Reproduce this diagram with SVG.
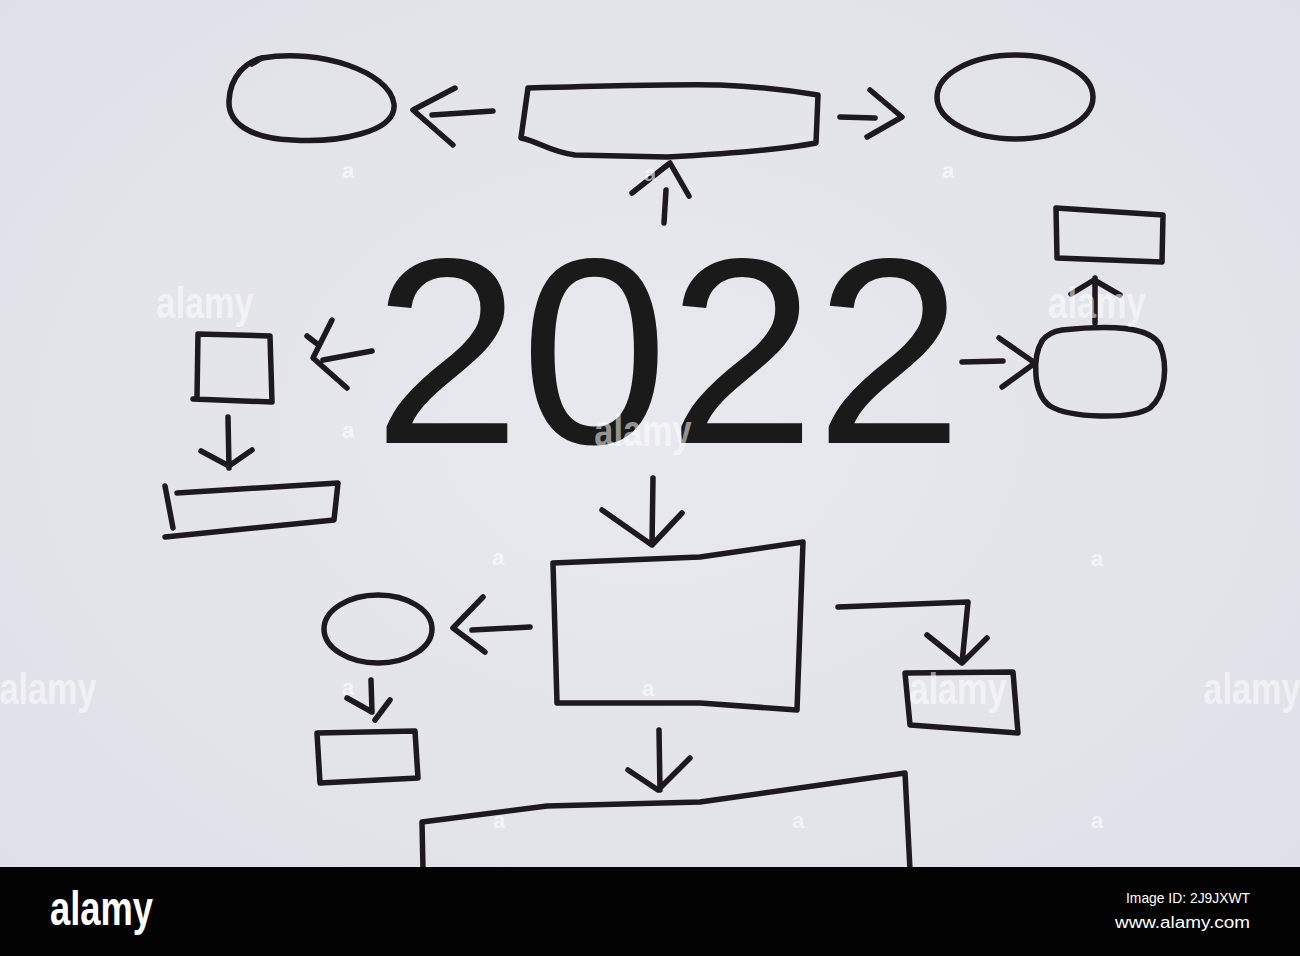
<svg xmlns="http://www.w3.org/2000/svg" width="1300" height="956" viewBox="0 0 1300 956">
<defs>
<radialGradient id="paper" cx="0.5" cy="0.45" r="0.75">
<stop offset="0" stop-color="#e8e9ee"/>
<stop offset="1" stop-color="#dfe0e7"/>
</radialGradient>
<style>
.ink{fill:none;stroke:#1d191e;stroke-width:5.5;stroke-linecap:round;stroke-linejoin:round}
.big{font-family:"Liberation Sans",Arial,sans-serif;font-size:265px;fill:#1a1a1a}
.wm{font-family:"Liberation Sans",Arial,sans-serif;font-weight:bold;fill:#ffffff;fill-opacity:0.55}
.wms{font-family:"Liberation Sans",Arial,sans-serif;font-weight:bold;font-size:22px;fill:#ffffff;fill-opacity:0.6}
.bar{font-family:"Liberation Sans",Arial,sans-serif;fill:#ffffff}
</style>
</defs>
<rect x="0" y="0" width="1300" height="956" fill="url(#paper)"/>

<g id="title">
<text class="big" x="668" y="443" text-anchor="middle">2022</text>
</g>

<g id="node-top-left-ellipse">
<path class="ink" d="M262,58 C320,48 390,72 394,104 C397,133 335,143 292,140 C248,138 228,122 229,101 C230,76 246,62 262,58 Z"/>
<path class="ink" d="M252,64 L262,58" stroke-width="7"/>
</g>
<g id="node-top-rect">
<path class="ink" d="M528,88 C600,86 680,84 720,85 C770,87 800,92 818,95 L816,143 C790,148 740,153 667,157 L575,155 C550,152 540,142 521,138 L528,88"/>
</g>
<g id="node-top-right-ellipse">
<ellipse class="ink" cx="1015" cy="97" rx="78" ry="42"/>
</g>
<g id="node-right-rect">
<path class="ink" d="M1056,208 L1163,215 L1162,262 L1057,258 Z"/>
</g>
<g id="node-right-round">
<path class="ink" d="M1062,330 C1110,325 1150,326 1160,345 C1168,365 1166,395 1150,408 C1130,420 1070,418 1050,406 C1032,393 1033,356 1042,341 C1048,333 1055,331 1062,330 Z"/>
</g>
<g id="node-left-square">
<path class="ink" d="M198,334 L270,336 L272,402 L193,399 M198,334 L197,397"/>
</g>
<g id="node-left-rect">
<path class="ink" d="M177,493 L338,483 L334,520 L165,537 M165,486 L173,528"/>
</g>
<g id="node-center-rect">
<path class="ink" d="M553,563 L700,557 L803,542 L797,710 L700,703 L557,703 Z"/>
</g>
<g id="node-left-circle">
<ellipse class="ink" cx="378" cy="629" rx="54" ry="34"/>
</g>
<g id="node-small-rect">
<path class="ink" d="M317,733 L415,731 L418,778 L320,783 Z"/>
</g>
<g id="node-right-small-rect">
<path class="ink" d="M905,673 L1013,672 L1018,733 L910,725 Z"/>
</g>
<g id="node-bottom-rect">
<path class="ink" d="M423,870 L422,822 L547,806 L700,802 L905,773 L910,870"/>
</g>

<g id="connectors">
<path class="ink" d="M493,111 L432,115 M455,88 L413,110 L453,145"/>
<path class="ink" d="M664,223 L666,190 M632,193 L670,163 L689,196"/>
<path class="ink" d="M840,117 L875,118 M870,90 L902,117 L867,137"/>
<path class="ink" d="M1095,323 L1095,278 M1071,294 L1094,280 L1120,295"/>
<path class="ink" d="M962,362 L1003,361 M999,338 L1035,363 L1002,387"/>
<path class="ink" d="M372,351 L323,360 M332,320 L313,358 L347,388 M307,336 L316,343"/>
<path class="ink" d="M228,417 L229,468 M201,451 L229,466 L252,450"/>
<path class="ink" d="M653,478 L652,545 M602,510 L652,545 L682,513"/>
<path class="ink" d="M530,627 L472,630 M483,597 L453,628 L485,652"/>
<path class="ink" d="M371,680 L372,712 M347,698 L372,712 M390,700 L375,720"/>
<path class="ink" d="M838,607 L968,602 L962,663 M927,635 L962,663 L987,638"/>
<path class="ink" d="M659,730 L660,790 M628,770 L658,790 L690,758"/>
</g>

<g id="watermarks">
<text class="wm" font-size="44" x="205" y="318" text-anchor="middle" transform="translate(205 0) scale(0.78 1) translate(-205 0)">alamy</text>
<text class="wm" font-size="44" x="1097" y="318" text-anchor="middle" transform="translate(1097 0) scale(0.78 1) translate(-1097 0)">alamy</text>
<text class="wm" font-size="44" x="643" y="446" text-anchor="middle" transform="translate(643 0) scale(0.78 1) translate(-643 0)">alamy</text>
<text class="wm" font-size="44" x="48" y="704" text-anchor="middle" transform="translate(48 0) scale(0.78 1) translate(-48 0)">alamy</text>
<text class="wm" font-size="44" x="958" y="704" text-anchor="middle" transform="translate(958 0) scale(0.78 1) translate(-958 0)">alamy</text>
<text class="wm" font-size="44" x="1252" y="704" text-anchor="middle" transform="translate(1252 0) scale(0.78 1) translate(-1252 0)">alamy</text>
<text class="wms" x="348" y="178" text-anchor="middle">a</text>
<text class="wms" x="650" y="181" text-anchor="middle">a</text>
<text class="wms" x="948" y="178" text-anchor="middle">a</text>
<text class="wms" x="348" y="438" text-anchor="middle">a</text>
<text class="wms" x="498" y="565" text-anchor="middle">a</text>
<text class="wms" x="1097" y="566" text-anchor="middle">a</text>
<text class="wms" x="348" y="695" text-anchor="middle">a</text>
<text class="wms" x="648" y="696" text-anchor="middle">a</text>
<text class="wms" x="499" y="828" text-anchor="middle">a</text>
<text class="wms" x="798" y="828" text-anchor="middle">a</text>
<text class="wms" x="1097" y="828" text-anchor="middle">a</text>
</g>

<g id="footer">
<rect x="0" y="867" width="1300" height="89" fill="#030303"/>
<text class="bar" x="50" y="925" font-size="48" font-weight="bold" textLength="103" lengthAdjust="spacingAndGlyphs">alamy</text>
<text class="bar" x="1250" y="903" font-size="15" text-anchor="end" textLength="124" lengthAdjust="spacingAndGlyphs">Image ID: 2J9JXWT</text>
<text class="bar" x="1250" y="928" font-size="16" text-anchor="end" textLength="135" lengthAdjust="spacingAndGlyphs">www.alamy.com</text>
</g>
</svg>
